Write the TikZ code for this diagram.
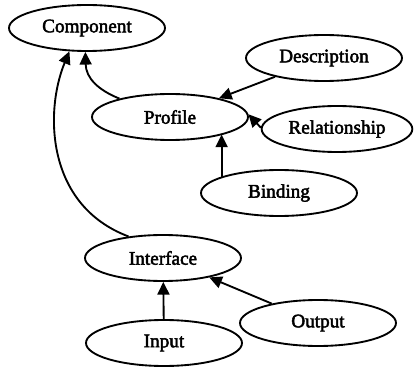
\documentclass[tikz,border=0pt]{standalone}
\usepackage{fontspec}
\setmainfont{Liberation Serif}
\newfontfamily\lblfont{Liberation Serif}[FakeBold=2.5]
\usetikzlibrary{shapes.geometric,arrows.meta}
\tikzset{
  concept/.style={ellipse, draw, line width=1.4pt, minimum width=117pt,
    minimum height=34.5pt, inner sep=0pt, font=\lblfont\fontsize{14.4}{16}\selectfont},
  arr/.style={line width=1.4pt, -{Triangle[length=9.5pt,width=9pt]}},
}
\begin{document}
\begin{tikzpicture}[x=0.75pt, y=-0.75pt]
\useasboundingbox (0,0) rectangle (414,367);

\node[concept] (component)    at (87,28)   {Component};
\node[concept] (profile)      at (170,117) {Profile};
\node[concept] (description)  at (324,58)  {Description};
\node[concept, minimum width=113pt] (relationship) at (337,129) {Relationship};
\node[concept] (binding)      at (279,193) {Binding};
\node[concept] (interface)    at (163,258) {Interface};
\node[concept] (input)        at (164,343) {Input};
\node[concept] (output)       at (318,323) {Output};

% links into Component
\draw[arr] (profile.160) .. controls (98,90) and (86,78) .. (component.266);
\draw[arr] (interface.148) .. controls (45,205) and (45,110) .. (component.233);

% links into Profile
\draw[arr] (description) -- (profile);
\draw[arr] (relationship.179) -- (profile.2);
\draw[arr] (binding.164) -- (binding.164 |- profile.-18);

% links into Interface
\draw[arr] (input) -- (interface);
\draw[arr] (output) -- (interface);
\end{tikzpicture}
\end{document}
